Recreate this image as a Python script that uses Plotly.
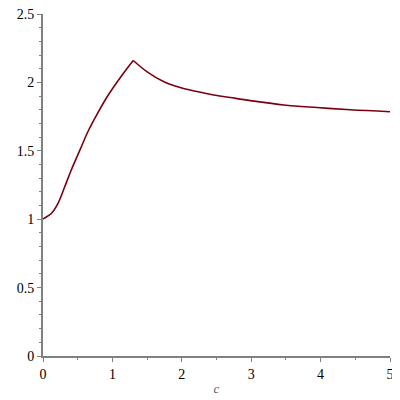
import plotly.graph_objects as go

# values
c_vals = [0.0, 0.014, 0.12, 0.216, 0.313, 0.409, 0.53, 0.65, 0.794, 0.938, 1.107, 1.30,
          1.496, 1.736, 1.977, 2.218, 2.457, 2.70, 2.987, 3.468, 3.95, 4.43, 5.0]
y_vals = [1.0, 1.006, 1.042, 1.116, 1.237, 1.362, 1.503, 1.643, 1.781, 1.906, 2.031, 2.16,
          2.079, 2.006, 1.962, 1.933, 1.908, 1.889, 1.867, 1.835, 1.816, 1.80, 1.786]
peak = 11  # index of the cusp

x_ticks = [0, 1, 2, 3, 4, 5]
y_ticks = [0, 0.5, 1, 1.5, 2, 2.5]
y_tick_text = ["0", "0.5", "1", "1.5", "2", "2.5"]

serif = "Liberation Serif"

fig = go.Figure()
# two smooth pieces meeting at the cusp
for xs, ys in [(c_vals[:peak + 1], y_vals[:peak + 1]), (c_vals[peak:], y_vals[peak:])]:
    fig.add_trace(go.Scatter(x=xs, y=ys, mode='lines', line_shape='spline',
                             line=dict(color='#7a0010', width=1.6), showlegend=False))

axis_common = dict(showgrid=False, zeroline=False, showline=True, linecolor='#808080',
                   linewidth=2, ticks='outside', ticklen=4, tickcolor='#808080',
                   automargin=False, ticklabeloverflow='allow',
                   tickfont=dict(family=serif, size=14, color='black'))

# page body adds an 8px offset, so the figure is sized to fit the 400px window
fig.update_layout(
    width=392, height=392,
    margin=dict(l=35, r=10, t=6, b=44),
    plot_bgcolor='white', paper_bgcolor='white',
    font=dict(family=serif),
    xaxis=dict(range=[0, 5], tickvals=x_ticks,
               minor=dict(dtick=0.5, ticks='outside', ticklen=2, tickcolor='#808080'),
               title=dict(text='<i>c</i>', standoff=3,
                          font=dict(family=serif, size=13, color='#606060')),
               **axis_common),
    yaxis=dict(range=[0, 2.5], tickvals=y_ticks, ticktext=y_tick_text,
               minor=dict(dtick=0.1, ticks='outside', ticklen=2, tickcolor='#808080'),
               **axis_common),
)

fig.write_html("out.html")
